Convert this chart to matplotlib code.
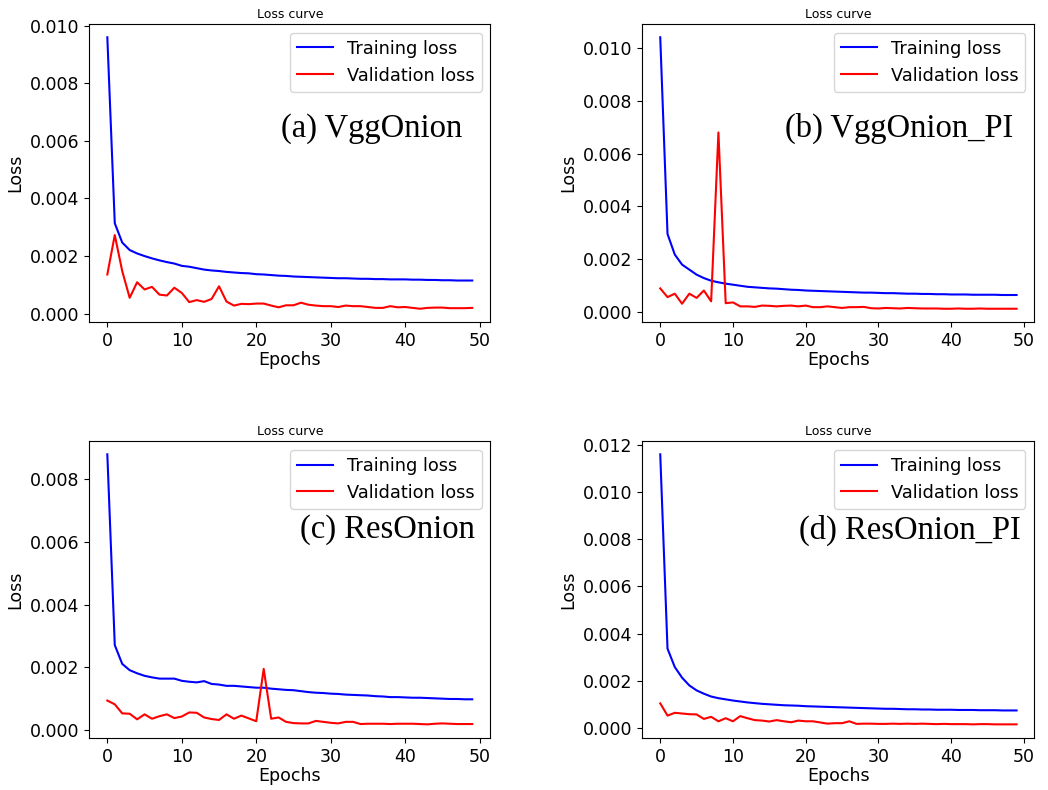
import numpy as np
import matplotlib
matplotlib.use("Agg")
import matplotlib.pyplot as plt

epochs = np.arange(50)

# (a) VggOnion
train_a = [0.0096, 0.00314, 0.00247, 0.00221, 0.00209, 0.00200, 0.00192, 0.00185, 0.00179, 0.00174,
           0.00166, 0.00163, 0.00158, 0.00153, 0.00150, 0.00148, 0.00145, 0.00143, 0.00141, 0.00140,
           0.00137, 0.00136, 0.00134, 0.00132, 0.00131, 0.00129, 0.00128, 0.00127, 0.00126, 0.00125,
           0.00124, 0.00123, 0.00123, 0.00122, 0.00121, 0.00121, 0.00120, 0.00120, 0.00119, 0.00119,
           0.00119, 0.00118, 0.00118, 0.00117, 0.00117, 0.00116, 0.00116, 0.00115, 0.00115, 0.00115]
val_a = [0.00136, 0.00273, 0.00148, 0.00055, 0.00109, 0.00084, 0.00093, 0.00066, 0.00063, 0.00090,
         0.00072, 0.00040, 0.00047, 0.00041, 0.00051, 0.00095, 0.00042, 0.00028, 0.00034, 0.00033,
         0.00035, 0.00035, 0.00028, 0.00022, 0.00029, 0.00029, 0.00038, 0.00031, 0.00028, 0.00026,
         0.00026, 0.00023, 0.00028, 0.00026, 0.00026, 0.00023, 0.00020, 0.00020, 0.00026, 0.00022,
         0.00023, 0.00020, 0.00017, 0.00020, 0.00021, 0.00021, 0.00019, 0.00019, 0.00019, 0.00020]

# (b) VggOnion_PI
train_b = [0.0104, 0.00296, 0.00218, 0.00180, 0.00161, 0.00142, 0.00129, 0.00119, 0.00113, 0.00108,
           0.00104, 0.00100, 0.00096, 0.00094, 0.00092, 0.00090, 0.00089, 0.00087, 0.00085, 0.00084,
           0.00082, 0.00081, 0.00080, 0.00079, 0.00078, 0.00077, 0.00076, 0.00075, 0.00074, 0.00074,
           0.00073, 0.00072, 0.00072, 0.00071, 0.00070, 0.00070, 0.00069, 0.00069, 0.00068, 0.00068,
           0.00067, 0.00067, 0.00067, 0.00066, 0.00066, 0.00066, 0.00066, 0.00065, 0.00065, 0.00065]
val_b = [0.00090, 0.00057, 0.00070, 0.00032, 0.00070, 0.00054, 0.00082, 0.00041, 0.00680, 0.00034,
         0.00037, 0.00022, 0.00022, 0.00020, 0.00025, 0.00024, 0.00022, 0.00024, 0.00025, 0.00022,
         0.00025, 0.00019, 0.00019, 0.00022, 0.00019, 0.00016, 0.00019, 0.00019, 0.00020, 0.00015,
         0.00014, 0.00016, 0.00015, 0.00014, 0.00016, 0.00015, 0.00014, 0.00014, 0.00014, 0.00013,
         0.00013, 0.00014, 0.00013, 0.00013, 0.00014, 0.00013, 0.00013, 0.00013, 0.00013, 0.00013]

# (c) ResOnion
train_c = [0.0088, 0.00271, 0.00211, 0.00191, 0.00181, 0.00173, 0.00168, 0.00164, 0.00164, 0.00164,
           0.00157, 0.00154, 0.00152, 0.00156, 0.00147, 0.00145, 0.00141, 0.00141, 0.00139, 0.00137,
           0.00135, 0.00135, 0.00132, 0.00130, 0.00128, 0.00127, 0.00124, 0.00121, 0.00119, 0.00118,
           0.00116, 0.00115, 0.00113, 0.00112, 0.00111, 0.00110, 0.00108, 0.00107, 0.00105, 0.00105,
           0.00104, 0.00103, 0.00103, 0.00102, 0.00101, 0.00100, 0.00099, 0.00099, 0.00098, 0.00098]
val_c = [0.00094, 0.00082, 0.00053, 0.00052, 0.00034, 0.00050, 0.00036, 0.00044, 0.00050, 0.00038,
         0.00043, 0.00056, 0.00055, 0.00040, 0.00035, 0.00032, 0.00050, 0.00036, 0.00046, 0.00037,
         0.00028, 0.00195, 0.00036, 0.00040, 0.00026, 0.00022, 0.00021, 0.00021, 0.00029, 0.00026,
         0.00023, 0.00021, 0.00026, 0.00026, 0.00019, 0.00020, 0.00020, 0.00020, 0.00019, 0.00020,
         0.00020, 0.00020, 0.00019, 0.00018, 0.00020, 0.00021, 0.00020, 0.00019, 0.00019, 0.00019]

# (d) ResOnion_PI
train_d = [0.0116, 0.00336, 0.00258, 0.00213, 0.00180, 0.00159, 0.00145, 0.00133, 0.00126, 0.00121,
           0.00116, 0.00112, 0.00108, 0.00105, 0.00102, 0.00100, 0.00098, 0.00096, 0.00095, 0.00094,
           0.00092, 0.00091, 0.00090, 0.00089, 0.00088, 0.00087, 0.00086, 0.00085, 0.00084, 0.00083,
           0.00082, 0.00081, 0.00081, 0.00080, 0.00079, 0.00079, 0.00078, 0.00078, 0.00077, 0.00077,
           0.00077, 0.00076, 0.00076, 0.00076, 0.00075, 0.00075, 0.00075, 0.00074, 0.00074, 0.00074]
val_d = [0.00104, 0.00052, 0.00064, 0.00061, 0.00058, 0.00057, 0.00038, 0.00047, 0.00028, 0.00041,
         0.00028, 0.00050, 0.00041, 0.00033, 0.00031, 0.00027, 0.00033, 0.00028, 0.00024, 0.00031,
         0.00028, 0.00028, 0.00023, 0.00018, 0.00020, 0.00020, 0.00028, 0.00017, 0.00018, 0.00018,
         0.00017, 0.00017, 0.00018, 0.00017, 0.00018, 0.00017, 0.00018, 0.00017, 0.00016, 0.00017,
         0.00016, 0.00016, 0.00016, 0.00015, 0.00016, 0.00016, 0.00015, 0.00015, 0.00015, 0.00015]

labels = ["(a) VggOnion", "(b) VggOnion_PI", "(c) ResOnion", "(d) ResOnion_PI"]
train = [train_a, train_b, train_c, train_d]
val = [val_a, val_b, val_c, val_d]

# axes boxes in figure fractions (left, bottom, width, height)
boxes = [(0.085, 0.592, 0.383, 0.378), (0.613, 0.592, 0.374, 0.378),
         (0.085, 0.066, 0.383, 0.376), (0.613, 0.066, 0.374, 0.376)]
text_pos = [(0.93, 0.65), (0.945, 0.65), (0.96, 0.70), (0.965, 0.70)]

fig = plt.figure(figsize=(10.48, 7.9), dpi=100)
for i in range(4):
    ax = fig.add_axes(boxes[i])
    ax.plot(epochs, train[i], color="blue", lw=1.5, label="Training loss")
    ax.plot(epochs, val[i], color="red", lw=1.5, label="Validation loss")
    ax.set_title("Loss curve", fontsize=9, pad=4)
    ax.set_xlabel("Epochs", fontsize=12.5, labelpad=1)
    ax.set_ylabel("Loss", fontsize=12.5)
    ax.tick_params(labelsize=12.5)
    ax.set_xticks([0, 10, 20, 30, 40, 50])
    ax.legend(loc="upper right", fontsize=12.8)
    ax.text(text_pos[i][0], text_pos[i][1], labels[i], transform=ax.transAxes,
            ha="right", va="center", fontsize=23.5, family="Liberation Serif")

fig.savefig("out.png", dpi=100)
